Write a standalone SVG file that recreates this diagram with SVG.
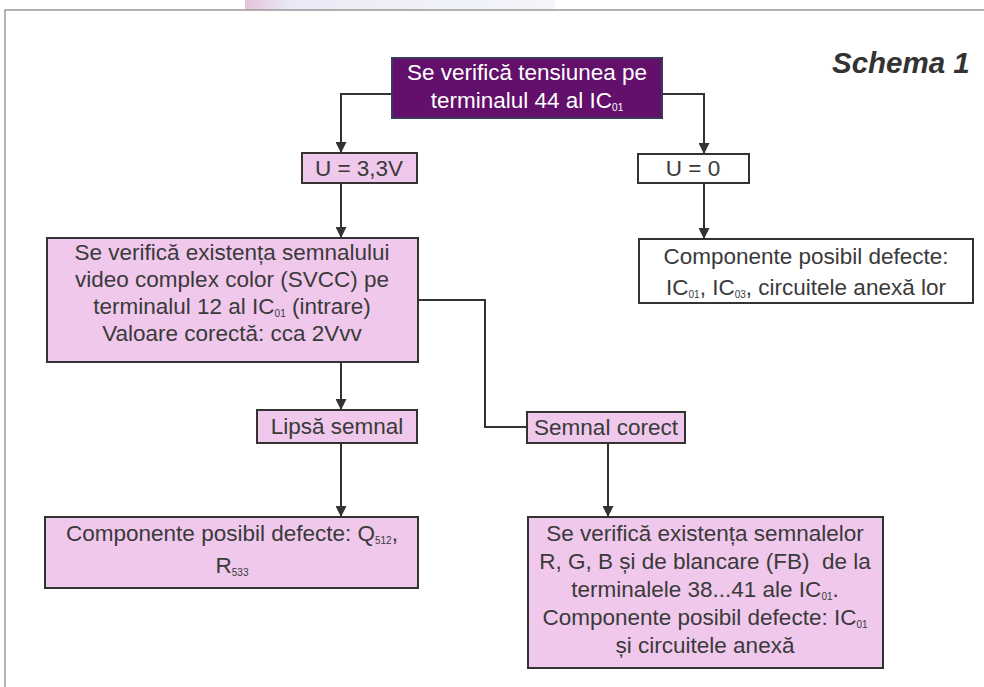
<svg xmlns="http://www.w3.org/2000/svg" width="984" height="687" viewBox="0 0 984 687">
<defs>
<linearGradient id="tab" x1="0" y1="0" x2="1" y2="0">
<stop offset="0" stop-color="#e3c4dc"/>
<stop offset="0.15" stop-color="#eaeaf6"/>
<stop offset="1" stop-color="#f4f6fb"/>
</linearGradient>
<marker id="arr" viewBox="0 0 10 10" refX="10" refY="5" markerWidth="12" markerHeight="11" markerUnits="userSpaceOnUse" orient="auto">
<path d="M0,0 L10,5 L0,10 z" fill="#333"/>
</marker>
<style>
.box{fill:#f0c8ec;stroke:#333;stroke-width:2}
.wbox{fill:#fff;stroke:#333;stroke-width:2}
.pbox{fill:#62106c;stroke:#3a3a5a;stroke-width:2}
.t{font-family:"Liberation Sans",Arial,sans-serif;font-size:22.5px;fill:#3a3a3a;text-anchor:middle}
.tw{font-family:"Liberation Sans",Arial,sans-serif;font-size:22.5px;fill:#fff;text-anchor:middle}
.sub{font-size:10px}
.ln{fill:none;stroke:#333;stroke-width:2}
</style>
</defs>
<rect x="0" y="0" width="984" height="687" fill="#fff"/>
<rect x="245" y="0" width="310" height="10" fill="url(#tab)"/>
<path d="M5,687 L5,10 L984,10" fill="none" stroke="#999" stroke-width="1.5"/>
<text x="832" y="73" font-family="Liberation Sans,Arial,sans-serif" font-size="29.5" font-weight="bold" font-style="italic" fill="#333">Schema 1</text>

<g id="connectors">
<path class="ln" d="M392,94 L341,94 L341,153" marker-end="url(#arr)"/>
<path class="ln" d="M662,94 L704,94 L704,154" marker-end="url(#arr)"/>
<path class="ln" d="M704,183 L704,239" marker-end="url(#arr)"/>
<path class="ln" d="M341,183 L341,238" marker-end="url(#arr)"/>
<path class="ln" d="M341,362 L341,410" marker-end="url(#arr)"/>
<path class="ln" d="M341,443 L341,517" marker-end="url(#arr)"/>
<path class="ln" d="M418,300 L485,300 L485,427 L527,427"/>
<path class="ln" d="M608,443 L608,517" marker-end="url(#arr)"/>
</g>

<g id="n-start">
<rect class="pbox" x="392" y="58" width="270" height="60"/>
<text class="tw" x="527" y="80">Se verifică tensiunea pe</text>
<text class="tw" x="527" y="108">terminalul 44 al IC<tspan class="sub" dy="3">01</tspan></text>
</g>

<g id="n-u33">
<rect class="box" x="302" y="153" width="115" height="30"/>
<text class="t" x="359" y="176">U = 3,3V</text>
</g>

<g id="n-u0">
<rect class="wbox" x="638" y="154" width="111" height="29"/>
<text class="t" x="693" y="176">U = 0</text>
</g>

<g id="n-def1">
<rect class="wbox" x="639" y="239" width="334" height="64"/>
<text class="t" x="806" y="264">Componente posibil defecte:</text>
<text class="t" x="806" y="295">IC<tspan class="sub" dy="3">01</tspan><tspan dy="-3">, IC</tspan><tspan class="sub" dy="3">03</tspan><tspan dy="-3">, circuitele anexă lor</tspan></text>
</g>

<g id="n-svcc">
<rect class="box" x="47" y="238" width="371" height="124"/>
<text class="t" x="232" y="260">Se verifică existența semnalului</text>
<text class="t" x="232" y="287">video complex color (SVCC) pe</text>
<text class="t" x="232" y="314">terminalul 12 al IC<tspan class="sub" dy="3">01</tspan><tspan dy="-3"> (intrare)</tspan></text>
<text class="t" x="232" y="341">Valoare corectă: cca 2Vvv</text>
</g>

<g id="n-lipsa">
<rect class="box" x="257" y="410" width="160" height="33"/>
<text class="t" x="337" y="434">Lipsă semnal</text>
</g>

<g id="n-corect">
<rect class="box" x="527" y="412" width="158" height="31"/>
<text class="t" x="606" y="435">Semnal corect</text>
</g>

<g id="n-def2">
<rect class="box" x="45" y="517" width="373" height="71"/>
<text class="t" x="232" y="541">Componente posibil defecte: Q<tspan class="sub" dy="3">512</tspan><tspan dy="-3">,</tspan></text>
<text class="t" x="232" y="573">R<tspan class="sub" dy="3">533</tspan></text>
</g>

<g id="n-rgb">
<rect class="box" x="528" y="517" width="355" height="151"/>
<text class="t" x="705" y="541">Se verifică existența semnalelor</text>
<text class="t" x="705" y="569" xml:space="preserve">R, G, B și de blancare (FB)  de la</text>
<text class="t" x="705" y="597">terminalele 38...41 ale IC<tspan class="sub" dy="3">01</tspan><tspan dy="-3">.</tspan></text>
<text class="t" x="705" y="625">Componente posibil defecte: IC<tspan class="sub" dy="3">01</tspan></text>
<text class="t" x="705" y="653">și circuitele anexă</text>
</g>
</svg>
